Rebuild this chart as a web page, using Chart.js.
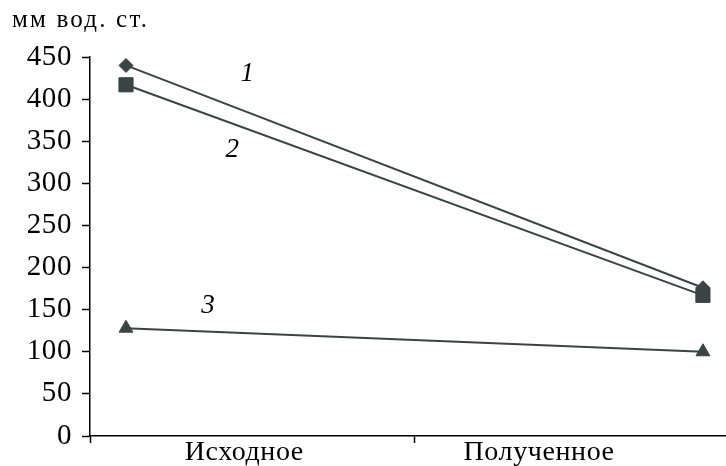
<!DOCTYPE html>
<html>
<head>
<meta charset="utf-8">
<script src="https://cdn.jsdelivr.net/npm/chart.js@4"></script>
<style>
  html, body { margin: 0; background: #fff; }
  #wrap { width: 726px; height: 466px; }
</style>
</head>
<body>
<div id="wrap"><canvas id="chart"></canvas></div>
<script>
// data
const categories = ['Исходное', 'Полученное'];
const series1 = [440, 176];
const series2 = [417, 167];
const series3 = [128, 100];
const seriesNames = ['1', '2', '3'];
const yTickValues = [0, 50, 100, 150, 200, 250, 300, 350, 400, 450];
const unitText = 'мм вод. ст.';

const ink = '#3a4444';
const serif = "'Liberation Serif', 'DejaVu Serif', serif";

// x is the category index; the category captions sit where the picture has them
const xMin = -0.0624, xMax = 1.04;
const captionAt = [0.205, 0.716];

function points(values) {
  return values.map((v, i) => ({ x: i, y: v }));
}

// italic numbers beside the lines (x in category units, y in axis units)
const seriesTags = [
  { text: seriesNames[0], x: 0.21, y: 430 },
  { text: seriesNames[1], x: 0.184, y: 340 },
  { text: seriesNames[2], x: 0.142, y: 155 },
];

// the original lettering is a bit wide, so spread the glyphs a little
const lettering = {
  id: 'lettering',
  beforeLayout(chart) { chart.ctx.letterSpacing = '0.6px'; },
  beforeDraw(chart) { chart.ctx.letterSpacing = '0.6px'; },
  afterDatasetsDraw(chart) {
    const ctx = chart.ctx;
    const xs = chart.scales.x, ys = chart.scales.y;
    ctx.save();
    ctx.fillStyle = '#000';

    // unit caption above the value axis
    ctx.letterSpacing = '2.2px';
    ctx.font = "25px " + serif;
    ctx.textAlign = 'left';
    ctx.textBaseline = 'alphabetic';
    ctx.fillText(unitText, 12, 27);

    ctx.letterSpacing = '0px';
    ctx.font = "italic 27px " + serif;
    ctx.textAlign = 'center';
    ctx.textBaseline = 'middle';
    seriesTags.forEach(t => {
      ctx.fillText(t.text, xs.getPixelForValue(t.x), ys.getPixelForValue(t.y));
    });
    ctx.restore();
  }
};

const line = (label, values, style, radius) => ({
  label: label,
  data: points(values),
  borderColor: ink,
  backgroundColor: ink,
  borderWidth: 2,
  pointStyle: style,
  pointRadius: radius,
  pointBorderWidth: 1,
  pointBackgroundColor: ink,
  pointBorderColor: ink,
  clip: false,
});

new Chart(document.getElementById('chart'), {
  type: 'line',
  data: {
    datasets: [
      line(seriesNames[0], series1, 'rectRot', 7),
      line(seriesNames[1], series2, 'rect', 10),
      line(seriesNames[2], series3, 'triangle', 8),
    ]
  },
  options: {
    responsive: true,
    maintainAspectRatio: false,
    animation: false,
    layout: { autoPadding: false, padding: { left: 12, right: 0, top: 57, bottom: 0 } },
    plugins: {
      legend: { display: false },
      tooltip: { enabled: false },
      title: { display: false },
    },
    scales: {
      x: {
        type: 'linear',
        min: xMin,
        max: xMax,
        afterBuildTicks(scale) {
          scale.ticks = [
            { value: xMin },
            { value: captionAt[0], name: categories[0] },
            { value: 0.5 },
            { value: captionAt[1], name: categories[1] },
          ];
        },
        afterFit(scale) { scale.height = 30; },
        border: { display: true, color: '#000', width: 1.5 },
        grid: {
          drawOnChartArea: false,
          tickLength: 7,
          tickWidth: 1.5,
          tickColor: c => (c.tick && c.tick.name) ? 'rgba(0,0,0,0)' : '#000',
        },
        ticks: {
          autoSkip: false,
          maxRotation: 0,
          padding: -7,
          color: '#000',
          font: { family: serif, size: 28 },
          callback: (v, i, ticks) => ticks[i].name || '',
        },
      },
      y: {
        min: 0,
        max: 450,
        afterBuildTicks(scale) {
          scale.ticks = yTickValues.map(v => ({ value: v }));
        },
        afterFit(scale) { scale.width = 78; },
        border: { display: true, color: '#000', width: 1.5 },
        grid: {
          drawOnChartArea: false,
          tickLength: 8,
          tickWidth: 1.5,
          tickColor: '#000',
        },
        ticks: {
          padding: 10,
          color: '#000',
          font: { family: serif, size: 29 },
        },
      },
    },
  },
  plugins: [lettering],
});
</script>
</body>
</html>
